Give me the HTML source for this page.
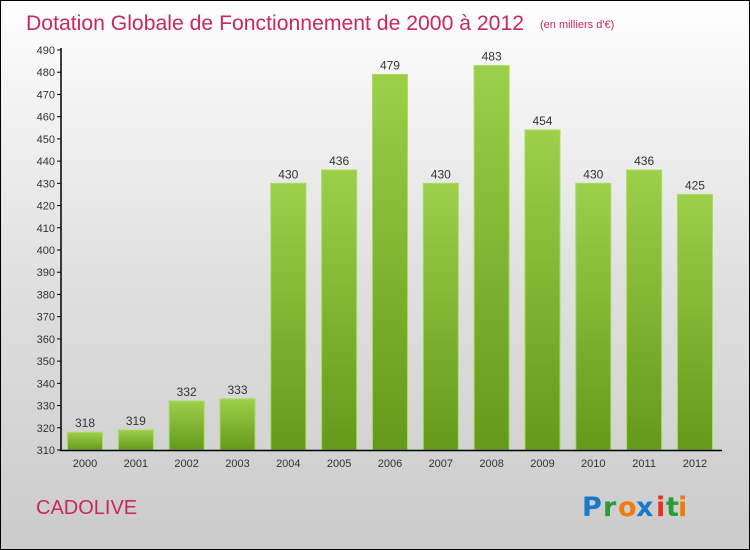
<!DOCTYPE html>
<html><head><meta charset="utf-8"><style>
body{margin:0;width:750px;height:550px;overflow:hidden;font-family:"Liberation Sans",sans-serif}
#frame{position:absolute;left:0;top:0;width:748px;height:548px;border:1px solid #000;background:linear-gradient(#fefefe,#e0e0e0 50%,#cbcbcb)}
</style></head><body>
<div id="frame"></div>
<svg id="c" width="750" height="550" style="position:absolute;left:0;top:0">
<defs><linearGradient id="g" x1="0" y1="0" x2="0" y2="1"><stop offset="0" stop-color="#9ccf4a"/><stop offset="1" stop-color="#64991a"/></linearGradient></defs>
<text x="26" y="30" font-size="21" fill="#c8285e" textLength="498" lengthAdjust="spacingAndGlyphs">Dotation Globale de Fonctionnement de 2000 à 2012</text>
<text x="540" y="28" font-size="11" fill="#c8285e">(en milliers d'€)</text>
<text x="36" y="514" font-size="20" fill="#c8285e">CADOLIVE</text>
<g font-size="27" font-weight="bold" font-family="'DejaVu Sans',sans-serif">
<text x="582" y="516" fill="#1a78c8">P</text><text x="603" y="516" fill="#2a9a3a">r</text><text x="618" y="516" fill="#f07a10">o</text><text x="636" y="516" fill="#1a78c8">x</text><text x="656" y="516" fill="#e83020">i</text><text x="666" y="516" fill="#2a9a3a">t</text><text x="678" y="516" fill="#f07a10">i</text>
</g>
<g id="plot"></g>
</svg>
<script>
const categories=["2000","2001","2002","2003","2004","2005","2006","2007","2008","2009","2010","2011","2012"];
const values=[318,319,332,333,430,436,479,430,483,454,430,436,425];
const yTicks=[310,320,330,340,350,360,370,380,390,400,410,420,430,440,450,460,470,480,490];
const NS="http://www.w3.org/2000/svg";
const g=document.getElementById('plot');
const y=v=>450-(v-310)*400/180;
const x=i=>85+i*50.83;
function mk(t,a){const e=document.createElementNS(NS,t);for(const k in a)e.setAttribute(k,a[k]);g.appendChild(e);return e;}
yTicks.forEach(t=>{
 const l=mk('line',{x1:57,x2:61,y1:y(t),y2:y(t),stroke:'#000'});
 
 
 const tx=mk('text',{x:55,y:y(t)+4,'font-size':11,fill:'#333','text-anchor':'end'});tx.textContent=t;
 
 
});
categories.forEach((c,i)=>{
 const r=mk('rect',{x:x(i)-17.5,y:y(values[i]),width:35,height:450-y(values[i]),fill:'url(#g)',stroke:'#a8dc5a','stroke-width':1});
 
 
 const v=mk('text',{x:x(i),y:y(values[i])-5,'font-size':12,fill:'#333','text-anchor':'middle'});v.textContent=values[i];
 
 
 const xl=mk('text',{x:x(i),y:467,'font-size':11,fill:'#333','text-anchor':'middle'});xl.textContent=c;
 
 
});
const ya=mk('line',{x1:61,x2:61,y1:48,y2:451,stroke:'#000','stroke-width':1.5});


const xa=mk('line',{x1:60,x2:722,y1:450.5,y2:450.5,stroke:'#000','stroke-width':1.5});


</script>
</body></html>
